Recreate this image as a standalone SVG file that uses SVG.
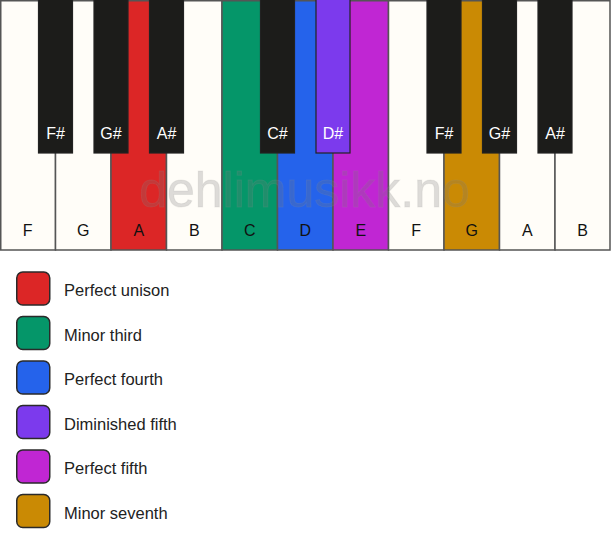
<svg xmlns="http://www.w3.org/2000/svg" width="611" height="550" viewBox="0 0 611 550">
<style>
.w{fill:#fffdf8;stroke:#555;stroke-width:1.5}
.b{fill:#1c1c1a;stroke:#222;stroke-width:1.2}
.wl{font-family:"Liberation Sans",Arial,sans-serif;font-size:16px;fill:#111;text-anchor:middle}
.bl{font-family:"Liberation Sans",Arial,sans-serif;font-size:16px;fill:#fff;text-anchor:middle}
.sw{stroke:#2a2a2a;stroke-width:1.5}
.lt{font-family:"Liberation Sans",Arial,sans-serif;font-size:16.5px;fill:#222}
.wm{font-family:"Liberation Sans",Arial,sans-serif;font-size:50px;fill:#777;fill-opacity:0.25;stroke:#999;stroke-opacity:0.15;stroke-width:1;text-anchor:middle}
</style>
<rect width="611" height="550" fill="#fff"/>
<g id="white-keys">
<g id="key-F1"><rect class="w" x="0.75" y="0.75" width="54.75" height="249.25"/><text class="wl" x="27.75" y="236">F</text></g>
<g id="key-G1"><rect class="w" x="55.5" y="0.75" width="55.5" height="249.25"/><text class="wl" x="83.25" y="236">G</text></g>
<g id="key-A1"><rect class="w" x="111" y="0.75" width="55.5" height="249.25" style="fill:#dc2626"/><text class="wl" x="138.75" y="236">A</text></g>
<g id="key-B1"><rect class="w" x="166.5" y="0.75" width="55.5" height="249.25"/><text class="wl" x="194.25" y="236">B</text></g>
<g id="key-C"><rect class="w" x="222" y="0.75" width="55.5" height="249.25" style="fill:#059669"/><text class="wl" x="249.75" y="236">C</text></g>
<g id="key-D"><rect class="w" x="277.5" y="0.75" width="55.5" height="249.25" style="fill:#2563eb"/><text class="wl" x="305.25" y="236">D</text></g>
<g id="key-E"><rect class="w" x="333" y="0.75" width="55.5" height="249.25" style="fill:#c026d3"/><text class="wl" x="360.75" y="236">E</text></g>
<g id="key-F2"><rect class="w" x="388.5" y="0.75" width="55.5" height="249.25"/><text class="wl" x="416.25" y="236">F</text></g>
<g id="key-G2"><rect class="w" x="444" y="0.75" width="55.5" height="249.25" style="fill:#ca8a04"/><text class="wl" x="471.75" y="236">G</text></g>
<g id="key-A2"><rect class="w" x="499.5" y="0.75" width="55.5" height="249.25"/><text class="wl" x="527.25" y="236">A</text></g>
<g id="key-B2"><rect class="w" x="555" y="0.75" width="55" height="249.25"/><text class="wl" x="582.5" y="236">B</text></g>
</g>
<text class="wm" x="304.5" y="207">dehlimusikk.no</text>
<g id="black-keys">
<g id="key-Fs1"><rect class="b" x="38.5" y="-1" width="34" height="154"/><text class="bl" x="55.5" y="139">F#</text></g>
<g id="key-Gs1"><rect class="b" x="94" y="-1" width="34" height="154"/><text class="bl" x="111" y="139">G#</text></g>
<g id="key-As1"><rect class="b" x="149.5" y="-1" width="34" height="154"/><text class="bl" x="166.5" y="139">A#</text></g>
<g id="key-Cs"><rect class="b" x="260.5" y="-1" width="34" height="154"/><text class="bl" x="277.5" y="139">C#</text></g>
<g id="key-Ds"><rect class="b" x="316" y="-1" width="34" height="154" style="fill:#7c3aed"/><text class="bl" x="333" y="139">D#</text></g>
<g id="key-Fs2"><rect class="b" x="427" y="-1" width="34" height="154"/><text class="bl" x="444" y="139">F#</text></g>
<g id="key-Gs2"><rect class="b" x="482.5" y="-1" width="34" height="154"/><text class="bl" x="499.5" y="139">G#</text></g>
<g id="key-As2"><rect class="b" x="538" y="-1" width="34" height="154"/><text class="bl" x="555" y="139">A#</text></g>
</g>
<g id="legend">
<g id="leg-unison"><rect class="sw" x="16.75" y="272" width="33" height="33" rx="6" fill="#dc2626"/><text class="lt" x="64" y="296">Perfect unison</text></g>
<g id="leg-minor-third"><rect class="sw" x="16.75" y="316.5" width="33" height="33" rx="6" fill="#059669"/><text class="lt" x="64" y="340.5">Minor third</text></g>
<g id="leg-fourth"><rect class="sw" x="16.75" y="361" width="33" height="33" rx="6" fill="#2563eb"/><text class="lt" x="64" y="385">Perfect fourth</text></g>
<g id="leg-dim-fifth"><rect class="sw" x="16.75" y="405.5" width="33" height="33" rx="6" fill="#7c3aed"/><text class="lt" x="64" y="429.5">Diminished fifth</text></g>
<g id="leg-fifth"><rect class="sw" x="16.75" y="450" width="33" height="33" rx="6" fill="#c026d3"/><text class="lt" x="64" y="474">Perfect fifth</text></g>
<g id="leg-minor-seventh"><rect class="sw" x="16.75" y="494.5" width="33" height="33" rx="6" fill="#ca8a04"/><text class="lt" x="64" y="518.5">Minor seventh</text></g>
</g>
</svg>
